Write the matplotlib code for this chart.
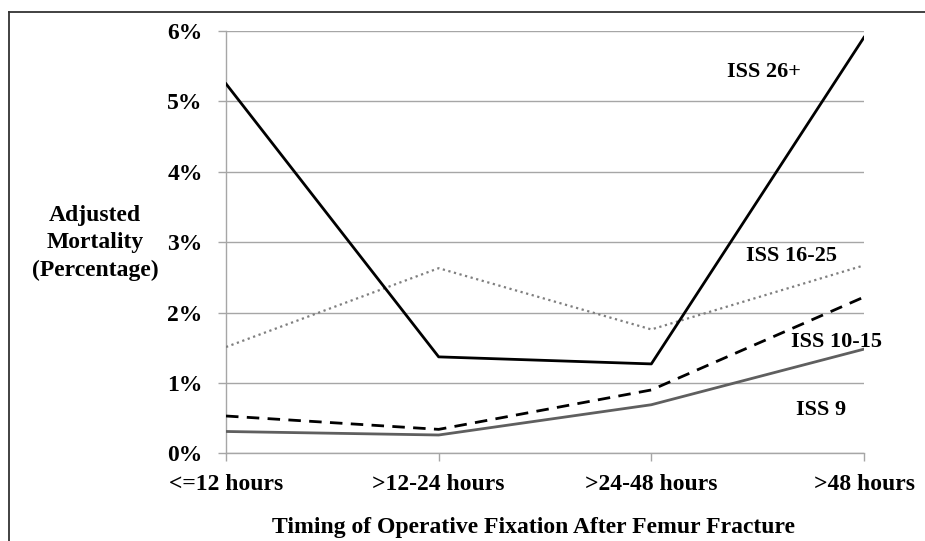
import matplotlib
matplotlib.use("Agg")
import matplotlib.pyplot as plt
from matplotlib.lines import Line2D

categories = ["<=12 hours", ">12-24 hours", ">24-48 hours", ">48 hours"]
iss_26 = [5.25, 1.37, 1.27, 5.91]
iss_16_25 = [1.51, 2.63, 1.76, 2.67]
iss_10_15 = [0.53, 0.34, 0.90, 2.22]
iss_9 = [0.31, 0.26, 0.69, 1.48]
y_ticks = [0, 1, 2, 3, 4, 5, 6]
y_tick_labels = ["0%", "1%", "2%", "3%", "4%", "5%", "6%"]

FONT = "Liberation Serif"
plt.rcParams["font.family"] = [FONT, "DejaVu Serif"]
plt.rcParams["font.weight"] = "bold"

FS = 17
FS_SERIES = 16

fig = plt.figure(figsize=(9.25, 5.41), dpi=100)
ax = fig.add_axes([226/925, 1-453.3/541, (864-226)/925, (453.3-31)/541])

x = list(range(len(categories)))
ax.plot(x, iss_16_25, color="#7f7f7f", lw=1.6, linestyle=(0, (1, 1.6)), zorder=3)
ax.plot(x, iss_9, color="#5f5f5f", lw=2.0, zorder=3)
ax.plot(x, iss_10_15, color="black", lw=2.0, linestyle=(0, (4.5, 3)), zorder=3)
ax.plot(x, iss_26, color="black", lw=2.0, zorder=4)

ax.set_xlim(0, 3)
ax.set_ylim(0, 6)
ax.set_yticks(y_ticks)
ax.set_yticklabels(y_tick_labels, fontsize=FS, fontweight="bold")
ax.set_xticks(x)
ax.set_xticklabels(categories, fontsize=FS, fontweight="bold")
ax.yaxis.grid(True, color="#a6a6a6", lw=1.0)
ax.set_axisbelow(True)
for s in ["top", "right"]:
    ax.spines[s].set_visible(False)
for s in ["left", "bottom"]:
    ax.spines[s].set_color("#a6a6a6")
    ax.spines[s].set_linewidth(1.0)
ax.tick_params(axis="both", color="#a6a6a6", length=5.8, width=1.0)
ax.tick_params(axis="y", pad=11)
ax.tick_params(axis="x", pad=9)

# series labels
ax.text(2.53, 5.42, "ISS 26+", fontsize=FS_SERIES, fontweight="bold", ha="center", va="center")
ax.text(2.66, 2.81, "ISS 16-25", fontsize=FS_SERIES, fontweight="bold", ha="center", va="center")
ax.text(2.87, 1.58, "ISS 10-15", fontsize=FS_SERIES, fontweight="bold", ha="center", va="center")
ax.text(2.80, 0.62, "ISS 9", fontsize=FS_SERIES, fontweight="bold", ha="center", va="center")

fig.text(95/925, 1-243/541, "Adjusted\nMortality\n(Percentage)", fontsize=FS,
         fontweight="bold", ha="center", va="center", linespacing=1.38)
fig.text(533.5/925, 1-527/541, "Timing of Operative Fixation After Femur Fracture",
         fontsize=FS, fontweight="bold", ha="center", va="center")

# outer border
fig.add_artist(Line2D([9/925, 9/925], [0, 1-12/541], transform=fig.transFigure, color="#333333", lw=1.3))
fig.add_artist(Line2D([9/925, 1], [1-12/541, 1-12/541], transform=fig.transFigure, color="#333333", lw=1.3))

fig.savefig("out.png", dpi=100, facecolor="white")
